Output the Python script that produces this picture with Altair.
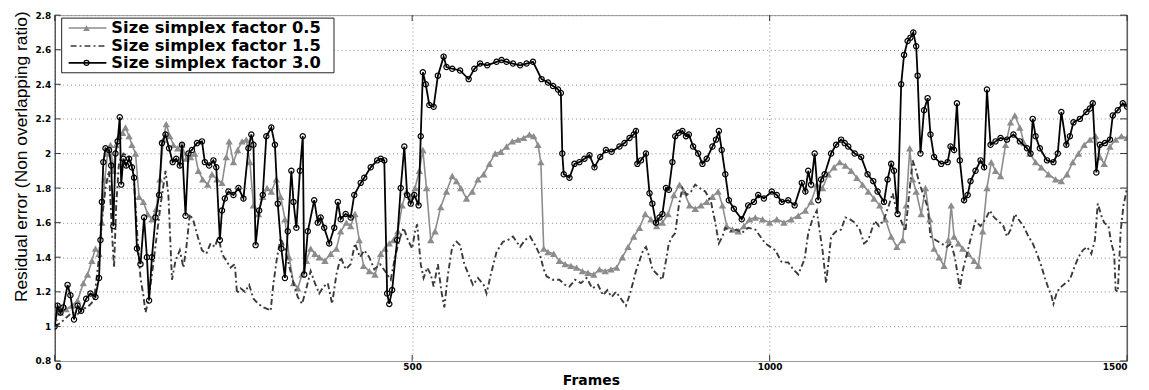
import altair as alt
import pandas as pd

# ---------------- data ----------------
frames_f05 = [0, 8, 16, 24, 32, 40, 46, 52, 57, 62,
              66, 70, 74, 78, 82, 86, 90, 95, 99, 104,
              108, 113, 118, 124, 130, 136, 142, 147, 152, 156,
              161, 166, 172, 178, 184, 190, 196, 201, 207, 214,
              220, 227, 234, 240, 244, 250, 256, 262, 268, 273,
              278, 285, 291, 297, 303, 310, 316, 322, 328, 334,
              340, 346, 352, 358, 364, 370, 378, 386, 394, 400,
              408, 414, 420, 426, 432, 440, 448, 456, 462, 468,
              474, 480, 486, 492, 498, 504, 510, 515, 520, 526,
              532, 540, 548, 556, 562, 568, 576, 584, 592, 600,
              608, 616, 624, 632, 640, 648, 656, 664, 670, 676,
              680, 684, 690, 698, 706, 714, 722, 730, 738, 746,
              754, 762, 770, 778, 786, 794, 802, 810, 818, 826,
              834, 842, 850, 858, 866, 874, 880, 888, 896, 904,
              912, 920, 928, 934, 940, 948, 956, 964, 972, 980,
              990, 1000, 1010, 1020, 1030, 1040, 1050, 1058, 1066, 1074,
              1082, 1090, 1098, 1106, 1114, 1122, 1130, 1138, 1146, 1154,
              1162, 1170, 1178, 1186, 1191, 1196, 1200, 1205, 1212, 1218,
              1224, 1230, 1237, 1244, 1250, 1254, 1258, 1264, 1270, 1278,
              1286, 1292, 1298, 1304, 1310, 1316, 1323, 1330, 1337, 1343,
              1350, 1356, 1364, 1372, 1380, 1390, 1400, 1408, 1416, 1424,
              1432, 1440, 1448, 1456, 1462, 1468, 1476, 1484, 1492, 1500]
resid_f05 = [1.05, 1.08, 1.10, 1.12, 1.15, 1.25, 1.30, 1.38, 1.45, 1.42,
             1.60, 1.85, 2.00, 2.05, 1.90, 2.05, 2.10, 2.12, 2.15, 2.10,
             2.05, 2.00, 1.75, 1.72, 1.65, 1.62, 1.68, 1.85, 2.08, 2.17,
             2.10, 2.05, 2.03, 2.05, 1.97, 1.98, 2.00, 1.90, 1.85, 1.82,
             1.88, 1.85, 1.83, 1.98, 2.07, 1.95, 2.02, 2.07, 2.08, 1.95,
             1.70, 1.65, 1.75, 1.80, 1.78, 1.85, 1.75, 1.62, 1.40, 1.25,
             1.22, 1.30, 1.38, 1.45, 1.42, 1.40, 1.38, 1.42, 1.45, 1.55,
             1.60, 1.58, 1.65, 1.50, 1.35, 1.32, 1.30, 1.42, 1.45, 1.48,
             1.50, 1.55, 1.70, 1.78, 1.75, 1.80, 1.90, 2.02, 1.80, 1.50,
             1.55, 1.69, 1.78, 1.87, 1.84, 1.80, 1.74, 1.78, 1.85, 1.88,
             1.94, 2.00, 2.01, 2.04, 2.07, 2.08, 2.09, 2.11, 2.10, 2.05,
             1.95, 1.45, 1.43, 1.42, 1.38, 1.36, 1.35, 1.34, 1.32, 1.31,
             1.30, 1.33, 1.32, 1.33, 1.34, 1.40, 1.46, 1.52, 1.57, 1.65,
             1.62, 1.58, 1.60, 1.65, 1.76, 1.82, 1.78, 1.70, 1.68, 1.70,
             1.72, 1.75, 1.78, 1.70, 1.58, 1.56, 1.55, 1.58, 1.62, 1.63,
             1.62, 1.60, 1.62, 1.60, 1.62, 1.64, 1.67, 1.72, 1.82, 1.80,
             1.88, 1.92, 1.95, 1.93, 1.90, 1.86, 1.82, 1.78, 1.74, 1.70,
             1.62, 1.52, 1.46, 1.50, 1.70, 2.03, 1.85, 1.78, 1.65, 1.80,
             1.62, 1.45, 1.40, 1.35, 1.50, 1.70, 1.52, 1.48, 1.45, 1.42,
             1.38, 1.35, 1.55, 1.80, 1.95, 1.90, 1.87, 2.05, 2.18, 2.22,
             2.15, 2.06, 2.00, 1.95, 1.92, 1.88, 1.85, 1.84, 1.88, 1.95,
             2.00, 2.05, 2.08, 2.10, 1.98, 1.94, 2.04, 2.08, 2.10, 2.09]

frames_f15 = [0, 8, 16, 24, 32, 40, 48, 55, 62, 67,
              71, 76, 80, 83, 86, 90, 96, 104, 110, 116,
              120, 124, 127, 131, 136, 142, 148, 155, 159, 164,
              169, 175, 180, 184, 189, 194, 200, 206, 212, 218,
              224, 229, 234, 240, 246, 252, 255, 260, 266, 272,
              278, 285, 292, 298, 302, 306, 311, 316, 322, 328,
              334, 340, 346, 352, 358, 364, 370, 376, 382, 388,
              394, 400, 407, 414, 420, 427, 433, 440, 447, 455,
              462, 470, 476, 482, 488, 494, 500, 504, 507, 512,
              516, 521, 526, 530, 536, 541, 545, 550, 556, 562,
              567, 573, 579, 585, 592, 600, 604, 610, 618, 627,
              634, 641, 651, 658, 665, 672, 679, 684, 688, 696,
              706, 714, 720, 728, 736, 744, 752, 760, 767, 773,
              779, 785, 792, 799, 804, 808, 813, 818, 823, 827,
              832, 836, 843, 850, 855, 859, 864, 868, 873, 878,
              884, 890, 896, 902, 910, 918, 924, 929, 934, 938,
              946, 954, 961, 970, 980, 987, 994, 1001, 1008, 1017,
              1026, 1033, 1040, 1045, 1049, 1054, 1060, 1066, 1070, 1074,
              1079, 1083, 1086, 1093, 1100, 1106, 1112, 1119, 1126, 1132,
              1138, 1147, 1153, 1160, 1166, 1172, 1178, 1184, 1190, 1196,
              1200, 1205, 1210, 1216, 1221, 1225, 1232, 1240, 1248, 1254,
              1259, 1263, 1266, 1270, 1276, 1282, 1288, 1295, 1302, 1308,
              1314, 1320, 1327, 1332, 1337, 1343, 1348, 1355, 1362, 1368,
              1374, 1380, 1385, 1390, 1394, 1397, 1402, 1408, 1414, 1420,
              1426, 1432, 1438, 1444, 1450, 1455, 1459, 1464, 1468, 1474,
              1478, 1482, 1484, 1487, 1491, 1495, 1500]
resid_f15 = [1.00, 1.02, 1.05, 1.08, 1.07, 1.10, 1.12, 1.15, 1.40, 1.65,
             1.80, 1.90, 1.55, 1.34, 1.70, 1.95, 2.00, 1.98, 1.90, 1.50,
             1.28, 1.18, 1.08, 1.15, 1.30, 1.50, 1.70, 1.90, 1.76, 1.27,
             1.38, 1.44, 1.34, 1.45, 1.65, 1.61, 1.52, 1.44, 1.42, 1.48,
             1.46, 1.52, 1.42, 1.38, 1.34, 1.36, 1.19, 1.22, 1.20, 1.24,
             1.16, 1.13, 1.11, 1.10, 1.09, 1.25, 1.40, 1.51, 1.45, 1.35,
             1.25, 1.17, 1.13, 1.22, 1.32, 1.25, 1.19, 1.23, 1.25, 1.13,
             1.30, 1.40, 1.33, 1.36, 1.48, 1.40, 1.44, 1.40, 1.33, 1.36,
             1.32, 1.27, 1.40, 1.50, 1.57, 1.50, 1.45, 1.55, 1.59, 1.36,
             1.28, 1.34, 1.30, 1.23, 1.36, 1.20, 1.11, 1.30, 1.46, 1.49,
             1.47, 1.36, 1.30, 1.24, 1.28, 1.24, 1.19, 1.30, 1.43, 1.49,
             1.50, 1.52, 1.46, 1.50, 1.52, 1.47, 1.41, 1.33, 1.29, 1.27,
             1.27, 1.24, 1.23, 1.27, 1.25, 1.28, 1.22, 1.24, 1.18, 1.21,
             1.17, 1.20, 1.16, 1.12, 1.18, 1.24, 1.32, 1.38, 1.44, 1.46,
             1.40, 1.33, 1.30, 1.27, 1.38, 1.48, 1.52, 1.54, 1.70, 1.80,
             1.76, 1.78, 1.82, 1.80, 1.78, 1.72, 1.60, 1.48, 1.52, 1.57,
             1.55, 1.56, 1.54, 1.57, 1.56, 1.52, 1.48, 1.46, 1.44, 1.37,
             1.37, 1.33, 1.30, 1.35, 1.39, 1.54, 1.62, 1.67, 1.55, 1.44,
             1.25, 1.40, 1.52, 1.55, 1.56, 1.63, 1.62, 1.60, 1.56, 1.48,
             1.50, 1.61, 1.58, 1.62, 1.69, 1.77, 1.66, 1.61, 1.55, 1.80,
             1.96, 1.90, 1.82, 1.75, 1.69, 1.52, 1.50, 1.48, 1.46, 1.48,
             1.40, 1.30, 1.22, 1.32, 1.42, 1.52, 1.61, 1.58, 1.62, 1.67,
             1.63, 1.61, 1.58, 1.52, 1.56, 1.65, 1.62, 1.58, 1.52, 1.48,
             1.42, 1.35, 1.28, 1.22, 1.18, 1.13, 1.20, 1.23, 1.25, 1.27,
             1.34, 1.40, 1.44, 1.46, 1.42, 1.50, 1.71, 1.64, 1.60, 1.58,
             1.48, 1.42, 1.21, 1.20, 1.55, 1.70, 1.80]

frames_f30 = [0, 4, 8, 12, 18, 22, 27, 32, 37, 44,
              50, 57, 62, 64, 66, 68, 71, 76, 79, 82,
              85, 88, 91, 93, 96, 100, 104, 108, 111, 115,
              120, 125, 129, 132, 136, 141, 146, 150, 155, 160,
              165, 170, 175, 178, 183, 187, 192, 199, 206, 210,
              216, 222, 226, 231, 234, 238, 243, 250, 257, 264,
              271, 275, 278, 281, 286, 291, 296, 303, 308, 312,
              317, 322, 326, 331, 334, 338, 343, 347, 349, 354,
              363, 368, 372, 377, 384, 391, 396, 400, 407, 414,
              419, 428, 433, 442, 451, 456, 461, 465, 468, 472,
              479, 484, 489, 493, 498, 503, 509, 512, 515, 519,
              524, 530, 536, 544, 548, 556, 567, 579, 587, 595,
              605, 618, 625, 632, 641, 651, 660, 669, 681, 690,
              697, 704, 708, 710, 712, 720, 727, 734, 741, 748,
              755, 763, 771, 779, 790, 797, 804, 810, 813, 815,
              820, 827, 832, 836, 841, 846, 850, 855, 859, 864,
              868, 873, 878, 883, 887, 893, 900, 906, 912, 920,
              925, 929, 933, 938, 943, 950, 961, 970, 978, 984,
              992, 1003, 1010, 1017, 1026, 1035, 1045, 1050, 1054, 1058,
              1063, 1068, 1072, 1077, 1086, 1093, 1100, 1105, 1110, 1119,
              1128, 1137, 1145, 1151, 1160, 1165, 1170, 1174, 1179, 1184,
              1188, 1193, 1197, 1201, 1205, 1207, 1211, 1216, 1221, 1225,
              1230, 1240, 1249, 1253, 1258, 1262, 1266, 1272, 1277, 1281,
              1288, 1295, 1300, 1304, 1309, 1316, 1323, 1332, 1341, 1350,
              1360, 1365, 1368, 1372, 1378, 1388, 1397, 1403, 1408, 1415,
              1420, 1425, 1434, 1443, 1448, 1452, 1457, 1462, 1469, 1476,
              1480, 1487, 1494, 1500]
resid_f30 = [1.00, 1.12, 1.08, 1.11, 1.24, 1.18, 1.04, 1.12, 1.09, 1.16,
             1.19, 1.17, 1.28, 1.50, 1.72, 1.95, 2.03, 2.02, 1.93, 1.58,
             2.00, 2.07, 2.21, 1.82, 1.97, 1.93, 1.97, 1.92, 1.86, 1.45,
             1.36, 1.63, 1.40, 1.15, 1.40, 1.63, 1.76, 2.06, 2.11, 2.03,
             1.95, 1.97, 1.93, 2.05, 1.64, 2.00, 2.02, 2.06, 2.07, 1.95,
             1.93, 1.96, 1.92, 1.50, 1.67, 1.74, 1.78, 1.76, 1.80, 1.74,
             2.03, 2.11, 2.05, 1.47, 1.67, 1.76, 2.10, 2.15, 2.05, 1.71,
             1.45, 1.28, 1.55, 1.90, 1.72, 1.57, 1.90, 2.10, 1.30, 1.55,
             1.73, 1.60, 1.63, 1.57, 1.48, 1.57, 1.72, 1.62, 1.65, 1.63,
             1.76, 1.83, 1.86, 1.92, 1.96, 1.97, 1.96, 1.19, 1.13, 1.21,
             1.50, 1.80, 2.04, 1.76, 1.71, 1.76, 1.70, 2.10, 2.47, 2.40,
             2.28, 2.27, 2.45, 2.56, 2.50, 2.49, 2.48, 2.43, 2.49, 2.52,
             2.51, 2.53, 2.54, 2.53, 2.52, 2.51, 2.52, 2.53, 2.43, 2.41,
             2.39, 2.37, 2.35, 2.00, 1.88, 1.86, 1.94, 1.95, 1.97, 1.99,
             1.92, 1.98, 2.02, 2.01, 2.04, 2.06, 2.09, 2.11, 2.13, 1.94,
             1.96, 2.00, 1.77, 1.71, 1.60, 1.63, 1.65, 1.80, 1.79, 1.95,
             2.10, 2.12, 2.13, 2.10, 2.11, 2.04, 2.00, 1.94, 1.97, 2.04,
             2.08, 2.13, 2.02, 1.88, 1.73, 1.68, 1.62, 1.70, 1.72, 1.76,
             1.74, 1.78, 1.76, 1.72, 1.73, 1.70, 1.83, 1.78, 1.90, 1.82,
             2.00, 1.73, 1.85, 1.88, 2.00, 2.05, 2.08, 2.06, 2.04, 2.00,
             1.98, 1.88, 1.84, 1.78, 1.72, 1.85, 1.94, 1.90, 1.65, 2.40,
             2.57, 2.65, 2.67, 2.70, 2.62, 2.45, 2.00, 2.25, 2.32, 2.11,
             1.98, 1.94, 1.95, 2.04, 2.02, 2.29, 1.96, 1.73, 1.76, 1.84,
             1.90, 1.96, 1.92, 2.37, 2.05, 2.07, 2.09, 2.08, 2.11, 2.07,
             2.03, 2.00, 2.20, 2.10, 2.03, 1.96, 1.95, 2.00, 2.24, 2.05,
             2.10, 2.18, 2.20, 2.24, 2.26, 2.29, 1.89, 2.05, 2.06, 2.08,
             2.22, 2.25, 2.29, 2.27]

x_ticks = [0, 500, 1000, 1500]
y_ticks = [0.8, 1.0, 1.2, 1.4, 1.6, 1.8, 2.0, 2.2, 2.4, 2.6, 2.8]
legend_labels = ["Size simplex factor 0.5", "Size simplex factor 1.5", "Size simplex factor 3.0"]

# ---------------- styling ----------------
W, H = 1079, 348
GRAY = "#8c8c8c"
DARK = "#3a3a3a"
TICK_FONT = "DejaVu Sans"

xs = alt.Scale(domain=[0, 1500], nice=False, zero=False)
ys = alt.Scale(domain=[0.8, 2.8], nice=False, zero=False)

x_axis = alt.Axis(values=x_ticks, format="d", title="Frames", grid=True,
                  gridDash=[1, 3], gridColor="#8a8a8a", gridOpacity=1,
                  tickSize=0, labelPadding=2, labelFont=TICK_FONT,
                  labelFontWeight="bold", labelFontSize=9, labelColor="black",
                  domainColor="#9a9a9a", titleFont=TICK_FONT, titleFontSize=14,
                  titleFontWeight="bold", titleColor="black", titleY=24,
                  titleBaseline="alphabetic")
y_axis = alt.Axis(values=y_ticks, format="~g", title="Residual error (Non overlapping ratio)",
                  grid=True, gridDash=[1, 3], gridColor="#8a8a8a", gridOpacity=1,
                  tickSize=0, labelPadding=4, labelFont=TICK_FONT,
                  labelFontWeight="bold", labelFontSize=9, labelColor="black",
                  domainColor="#333333", titleFont="Liberation Sans", titleFontSize=17.5,
                  titleFontWeight="normal", titleColor="black", titleX=-28, titleY=142,
                  titleAngle=270, titleAlign="center", titleBaseline="alphabetic")

X = alt.X("frame:Q", scale=xs, axis=x_axis)
Y = alt.Y("err:Q", scale=ys, axis=y_axis)

df05 = pd.DataFrame({"frame": frames_f05, "err": resid_f05})
df15 = pd.DataFrame({"frame": frames_f15, "err": resid_f15})
df30 = pd.DataFrame({"frame": frames_f30, "err": resid_f30})

g_line = alt.Chart(df05).mark_line(color=GRAY, strokeWidth=1.6, clip=True).encode(x=X, y=Y)
g_pts = alt.Chart(df05).mark_point(shape="triangle-up", filled=True, size=55, color=GRAY,
                                   opacity=1, clip=True).encode(x=X, y=Y)
d_line = alt.Chart(df15).mark_line(color=DARK, strokeWidth=1.9, strokeDash=[6, 3, 2, 3],
                                   clip=True).encode(x=X, y=Y)
b_line = alt.Chart(df30).mark_line(color="black", strokeWidth=1.8, clip=True).encode(x=X, y=Y)
b_pts = alt.Chart(df30).mark_point(shape="circle", filled=False, size=28, color="black",
                                   strokeWidth=1.2, opacity=1, clip=True).encode(x=X, y=Y)

# inward tick marks (box style)
ydf = pd.DataFrame({"err": y_ticks})
xdf = pd.DataFrame({"frame": x_ticks})
left_ticks = alt.Chart(ydf).mark_rule(color="#333333").encode(y=Y, x=alt.value(0), x2=alt.value(6))
right_ticks = alt.Chart(ydf).mark_rule(color="#333333").encode(y=Y, x=alt.value(W - 7), x2=alt.value(W))
top_ticks = alt.Chart(xdf).mark_rule(color="#333333").encode(x=X, y=alt.value(0), y2=alt.value(6))
bot_ticks = alt.Chart(xdf).mark_rule(color="#333333").encode(x=X, y=alt.value(H - 6), y2=alt.value(H))
right_edge = alt.Chart(alt.Data(values=[{"k": 0}])).mark_rule(color="#333333").encode(
    x=alt.value(W), y=alt.value(0), y2=alt.value(H))

# legend
one = alt.Data(values=[{"k": 0}])
leg_box = alt.Chart(one).mark_rect(fill="white", stroke="#222222", strokeWidth=1).encode(
    x=alt.value(7), x2=alt.value(281), y=alt.value(3), y2=alt.value(58))
leg_rows = [13, 31, 48]
leg_layers = [leg_box]
leg_layers.append(alt.Chart(one).mark_rule(color=GRAY, strokeWidth=1.4).encode(
    x=alt.value(14), x2=alt.value(52), y=alt.value(leg_rows[0])))
leg_layers.append(alt.Chart(one).mark_point(shape="triangle-up", filled=True, size=45, color=GRAY,
                                            opacity=1).encode(x=alt.value(32), y=alt.value(leg_rows[0])))
leg_layers.append(alt.Chart(one).mark_rule(color=DARK, strokeWidth=1.5, strokeDash=[6, 3, 2, 3]).encode(
    x=alt.value(16), x2=alt.value(53), y=alt.value(leg_rows[1])))
leg_layers.append(alt.Chart(one).mark_rule(color="black", strokeWidth=1.6).encode(
    x=alt.value(14), x2=alt.value(52), y=alt.value(leg_rows[2])))
leg_layers.append(alt.Chart(one).mark_point(shape="circle", filled=False, size=26, color="black",
                                            strokeWidth=1.2, opacity=1).encode(
    x=alt.value(32), y=alt.value(leg_rows[2])))
for lab, yy in zip(legend_labels, leg_rows):
    leg_layers.append(alt.Chart(one).mark_text(align="left", baseline="middle", font=TICK_FONT,
                                               fontWeight="bold", fontSize=16.4, color="black").encode(
        x=alt.value(57), y=alt.value(yy), text=alt.value(lab)))

chart = alt.layer(
    g_line, g_pts, d_line, b_line, b_pts,
    left_ticks, right_ticks, top_ticks, bot_ticks, right_edge,
    *leg_layers
).properties(
    width=W, height=H,
    autosize=alt.AutoSizeParams(type="none"),
    padding={"left": 47, "top": 6, "right": 14, "bottom": 26},
    background="white",
).configure_view(stroke="#9a9a9a", strokeWidth=1)

chart.save("out.html", embed_options={"renderer": "svg", "actions": False})
